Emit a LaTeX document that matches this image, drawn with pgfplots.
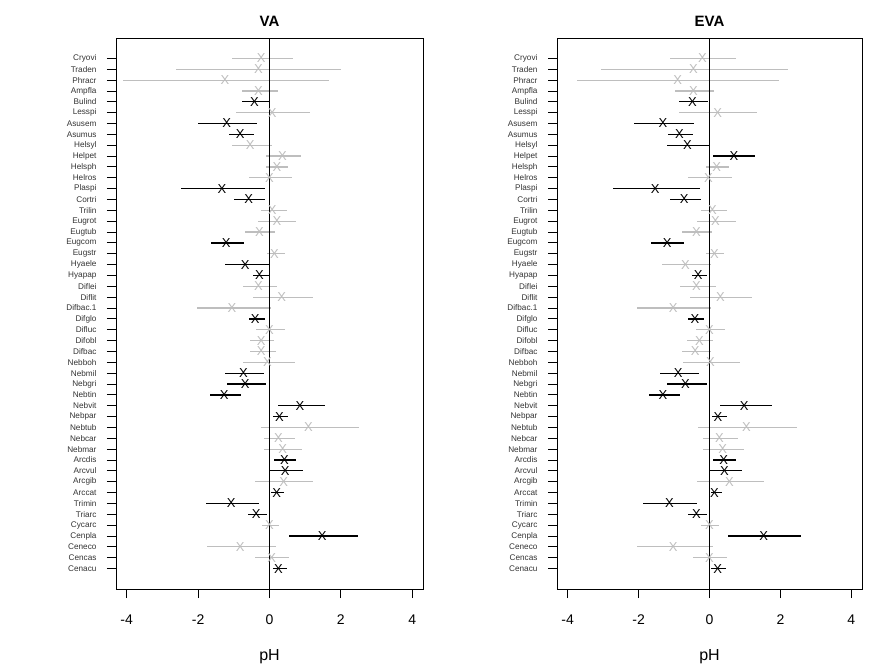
\documentclass[border=0pt]{standalone}
\usepackage{fontspec}
\setmainfont{Liberation Sans}
\usepackage{pgfplots}
\pgfplotsset{compat=1.18}
\usepackage{pgfplotstable}

\definecolor{nsgray}{RGB}{190,190,190}

% columns: y (row index), x (estimate), lo, hi
\pgfplotstableread{
y x lo hi
44 -0.42 -0.77 0.00
42 -1.20 -1.99 -0.36
41 -0.82 -1.13 -0.44
36 -1.33 -2.47 -0.13
35 -0.58 -1.00 -0.13
31 -1.21 -1.64 -0.72
29 -0.68 -1.25 0.00
28 -0.28 -0.45 0.00
24 -0.40 -0.58 -0.13
19 -0.73 -1.25 -0.16
18 -0.68 -1.20 -0.10
17 -1.27 -1.68 -0.81
16 0.85 0.23 1.56
15 0.28 0.085 0.52
11 0.42 0.14 0.74
10 0.44 0.00 0.94
8 0.20 0.03 0.40
7 -1.07 -1.79 -0.30
6 -0.37 -0.59 -0.075
4 1.48 0.56 2.47
1 0.25 0.085 0.49
}\vasig
\pgfplotstableread{
y x lo hi
48 -0.235 -1.055 0.66
47 -0.31 -2.61 2.00
46 -1.25 -4.10 1.68
45 -0.31 -0.77 0.235
43 0.075 -0.94 1.14
40 -0.54 -1.05 0.066
39 0.36 -0.094 0.89
38 0.21 -0.094 0.52
37 0.00 -0.57 0.63
34 0.075 -0.235 0.49
33 0.21 -0.31 0.74
32 -0.28 -0.68 0.15
30 0.14 -0.06 0.43
27 -0.31 -0.73 0.21
26 0.34 -0.45 1.22
25 -1.05 -2.04 0.04
23 0.00 -0.38 0.43
22 -0.23 -0.55 0.12
21 -0.23 -0.55 0.18
20 -0.06 -0.73 0.72
14 1.09 -0.235 2.50
13 0.25 -0.14 0.72
12 0.37 -0.14 0.91
9 0.40 -0.40 1.22
5 0.00 -0.20 0.26
3 -0.82 -1.76 0.18
2 0.06 -0.40 0.55
}\vans
\pgfplotstableread{
y x lo hi
44 -0.48 -0.86 -0.05
42 -1.31 -2.13 -0.44
41 -0.85 -1.17 -0.47
40 -0.62 -1.20 0.00
39 0.69 0.094 1.28
36 -1.53 -2.72 -0.27
35 -0.71 -1.11 -0.24
31 -1.19 -1.65 -0.71
28 -0.32 -0.48 -0.075
24 -0.41 -0.62 -0.16
19 -0.88 -1.39 -0.30
18 -0.68 -1.20 -0.075
17 -1.31 -1.70 -0.84
16 0.98 0.29 1.76
15 0.24 0.075 0.49
11 0.40 0.10 0.74
10 0.42 0.00 0.91
8 0.14 0.03 0.35
7 -1.13 -1.87 -0.36
6 -0.37 -0.62 -0.075
4 1.53 0.53 2.58
1 0.23 0.05 0.46
}\evasig
\pgfplotstableread{
y x lo hi
48 -0.20 -1.11 0.74
47 -0.45 -3.06 2.21
46 -0.90 -3.74 1.96
45 -0.45 -0.97 0.12
43 0.23 -0.86 1.34
38 0.20 -0.094 0.55
37 -0.03 -0.60 0.63
34 0.085 -0.235 0.49
33 0.17 -0.35 0.74
32 -0.37 -0.77 0.066
30 0.14 -0.094 0.40
29 -0.68 -1.34 0.03
27 -0.37 -0.83 0.18
26 0.31 -0.55 1.20
25 -1.02 -2.04 0.04
23 0.00 -0.38 0.43
22 -0.28 -0.63 0.094
21 -0.40 -0.77 0.04
20 0.03 -0.74 0.86
14 1.04 -0.32 2.47
13 0.28 -0.18 0.80
12 0.37 -0.18 0.97
9 0.56 -0.35 1.53
5 0.00 -0.235 0.26
3 -1.02 -2.04 0.094
2 0.00 -0.46 0.49
}\evans

\pgfplotsset{
  panel/.style={
    scale only axis, anchor=south west,
    height=551pt,
    xmin=-4.3, xmax=4.3, ymin=-0.88, ymax=49.88,
    axis line style={line width=0.9pt},
    tick pos=left, tick align=outside, major tick length=9pt,
    tick style={black, line width=0.9pt},
    xtick={-4,-2,0,2,4}, xticklabels={-4,-2,0,2,4},
    xticklabel style={font=\fontsize{14}{14}\selectfont, yshift=-13pt},
    ytick={1,...,48},
    yticklabels={Cenacu,Cencas,Ceneco,Cenpla,Cycarc,Triarc,Trimin,Arccat,Arcgib,Arcvul,Arcdis,Nebmar,Nebcar,Nebtub,Nebpar,Nebvit,Nebtin,Nebgri,Nebmil,Nebboh,Difbac,Difobl,Difluc,Difglo,Difbac.1,Diflit,Diflei,Hyapap,Hyaele,Eugstr,Eugcom,Eugtub,Eugrot,Trilin,Cortri,Plaspi,Helros,Helsph,Helpet,Helsyl,Asumus,Asusem,Lesspi,Bulind,Ampfla,Phracr,Traden,Cryovi},
    yticklabel style={font=\fontsize{8.2}{8.2}\selectfont, text=black!80, xshift=-7pt},
    xlabel={pH},
    xlabel style={at={(0.5,0)}, anchor=base, yshift=-72pt, font=\fontsize{16}{16}\selectfont},
    title style={at={(0.5,1)}, anchor=base, yshift=5pt, font=\bfseries\fontsize{15}{15}\selectfont},
  },
  est/.style={only marks, mark=text, color=#1,
    text mark={\raisebox{-1pt}{\fontsize{13}{13}\selectfont\textcolor{#1}{X}}},
    error bars/.cd, x dir=both, x explicit, error mark=none,
    error bar style={line width=1.2pt, color=#1}},
}

\begin{document}
\begin{tikzpicture}
\useasboundingbox (0,0) rectangle (883pt,666pt);
\begin{axis}[panel, at={(116pt,77pt)}, width=307pt, title={VA}]
\addplot[est=nsgray] table[x=x, y=y, x error plus expr=\thisrow{hi}-\thisrow{x}, x error minus expr=\thisrow{x}-\thisrow{lo}] {\vans};
\addplot[est=black] table[x=x, y=y, x error plus expr=\thisrow{hi}-\thisrow{x}, x error minus expr=\thisrow{x}-\thisrow{lo}] {\vasig};
\addplot[black, line width=1.1pt] coordinates {(0,-0.88) (0,49.88)};
\end{axis}
\begin{axis}[panel, at={(557pt,77pt)}, width=305pt, title={EVA}]
\addplot[est=nsgray] table[x=x, y=y, x error plus expr=\thisrow{hi}-\thisrow{x}, x error minus expr=\thisrow{x}-\thisrow{lo}] {\evans};
\addplot[est=black] table[x=x, y=y, x error plus expr=\thisrow{hi}-\thisrow{x}, x error minus expr=\thisrow{x}-\thisrow{lo}] {\evasig};
\addplot[black, line width=1.1pt] coordinates {(0,-0.88) (0,49.88)};
\end{axis}
\end{tikzpicture}
\end{document}
